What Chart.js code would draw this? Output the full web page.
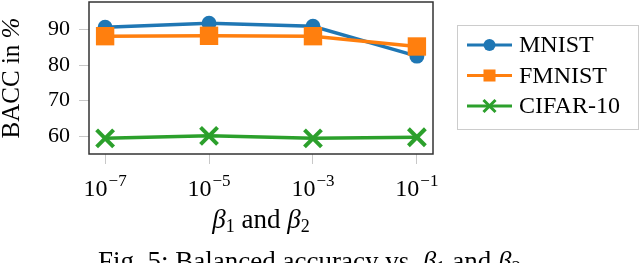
<!DOCTYPE html>
<html lang="en">
<head>
<meta charset="UTF-8">
<title>BACC vs beta</title>
<style>
    body { margin: 0; background: white; }
    #wrap { position: relative; width: 640px; height: 263px; overflow: hidden; }
    #caption {
        position: absolute;
        left: 98px;
        top: 248px;
        font-family: "Liberation Serif", serif;
        font-size: 27px;
        line-height: 27px;
        white-space: nowrap;
        color: black;
    }
    #caption sub { font-size: 19px; vertical-align: -4px; line-height: 0; }
</style>
<script src="https://cdn.jsdelivr.net/npm/chart.js@4/dist/chart.umd.min.js"></script>
</head>
<body>
<div id="wrap">
    <canvas id="chart" width="640" height="263"></canvas>
    <div id="caption">Fig. 5: Balanced accuracy vs. <i>β</i><sub>1</sub> and <i>β</i><sub>2</sub></div>
</div>
<script>
// exponents of beta (10^x) and the tick labels
const xExp = [-7, -5, -3, -1];
const tickBase = '10';
const tickExp = ['\u22127', '\u22125', '\u22123', '\u22121'];
const yTicks = [60, 70, 80, 90];

// BACC in %
const mnist = [90.6, 91.7, 90.9, 82.5];
const fmnist = [88.1, 88.2, 88.1, 85.2];
const cifar = [59.4, 60.1, 59.4, 59.7];

const seriesNames = ['MNIST', 'FMNIST', 'CIFAR-10'];
const colors = ['#1f77b4', '#ff7f0e', '#2ca02c'];

const serif = '"Liberation Serif", serif';

function pts(vals) {
    return vals.map((v, i) => ({ x: xExp[i], y: v }));
}

// frame, tick labels, axis titles and legend
const extras = {
    id: 'extras',
    afterDraw(chart) {
        const ctx = chart.ctx;
        const a = chart.chartArea;
        const xs = chart.scales.x;
        ctx.save();

        // frame round the plot
        ctx.strokeStyle = '#333';
        ctx.lineWidth = 1.5;
        ctx.strokeRect(a.left, a.top, a.right - a.left, a.bottom - a.top);

        // x tick labels 10^-n
        ctx.fillStyle = 'black';
        ctx.textBaseline = 'alphabetic';
        ctx.textAlign = 'left';
        xExp.forEach((e, i) => {
            const px = xs.getPixelForValue(e);
            ctx.font = '24px ' + serif;
            const w1 = ctx.measureText(tickBase).width;
            ctx.font = '17px ' + serif;
            const w2 = ctx.measureText(tickExp[i]).width;
            const x0 = px - (w1 + w2 + 1) / 2;
            ctx.font = '24px ' + serif;
            ctx.fillText(tickBase, x0, 196);
            ctx.font = '17px ' + serif;
            ctx.fillText(tickExp[i], x0 + w1 + 1, 186);
        });

        // x title: beta_1 and beta_2
        const parts = [
            ['italic 27px ' + serif, '\u03b2', 0],
            ['18px ' + serif, '1', 4],
            ['27px ' + serif, ' and ', 0],
            ['italic 27px ' + serif, '\u03b2', 0],
            ['18px ' + serif, '2', 4]
        ];
        let total = 0;
        parts.forEach(p => { ctx.font = p[0]; total += ctx.measureText(p[1]).width; });
        let cx = (a.left + a.right) / 2 - total / 2;
        parts.forEach(p => {
            ctx.font = p[0];
            ctx.fillText(p[1], cx, 228 + p[2]);
            cx += ctx.measureText(p[1]).width;
        });

        // y title
        ctx.save();
        ctx.translate(12, (a.top + a.bottom) / 2);
        ctx.rotate(-Math.PI / 2);
        ctx.textBaseline = 'middle';
        ctx.font = '25px ' + serif;
        const t1 = 'BACC in ';
        const w1 = ctx.measureText(t1).width;
        ctx.font = 'italic 25px ' + serif;
        const w2 = ctx.measureText('%').width;
        ctx.font = '25px ' + serif;
        ctx.fillText(t1, -(w1 + w2) / 2, 0);
        ctx.font = 'italic 25px ' + serif;
        ctx.fillText('%', -(w1 + w2) / 2 + w1, 0);
        ctx.restore();

        // legend
        ctx.fillStyle = 'white';
        ctx.fillRect(457, 25, 182, 105);
        ctx.strokeStyle = '#cccccc';
        ctx.lineWidth = 1;
        ctx.strokeRect(457.5, 25.5, 181, 104);
        chart.data.datasets.forEach((ds, i) => {
            const y = 45 + i * 30.5;
            ctx.strokeStyle = ds.borderColor;
            ctx.fillStyle = ds.borderColor;
            ctx.lineWidth = 3;
            ctx.beginPath();
            ctx.moveTo(467, y);
            ctx.lineTo(512, y);
            ctx.stroke();
            Chart.helpers.drawPoint(ctx, {
                pointStyle: ds.pointStyle,
                radius: ds.pointStyle === 'circle' ? 6 : 8.5,
                borderWidth: ds.pointStyle === 'crossRot' ? 3.5 : 0
            }, 489.5, y);
            ctx.fillStyle = 'black';
            ctx.font = '24px ' + serif;
            ctx.textBaseline = 'middle';
            ctx.fillText(ds.label, 519, y + 1);
        });

        ctx.restore();
    }
};

new Chart(document.getElementById('chart'), {
    type: 'line',
    data: {
        datasets: [
            {
                label: seriesNames[0], data: pts(mnist), order: 3,
                borderColor: colors[0], backgroundColor: colors[0],
                borderWidth: 3.5, pointStyle: 'circle', pointRadius: 7.5,
                pointBorderWidth: 0
            },
            {
                label: seriesNames[1], data: pts(fmnist), order: 2,
                borderColor: colors[1], backgroundColor: colors[1],
                borderWidth: 3.5, pointStyle: 'rect', pointRadius: 13,
                pointBorderWidth: 0
            },
            {
                label: seriesNames[2], data: pts(cifar), order: 1,
                borderColor: colors[2], backgroundColor: colors[2],
                borderWidth: 3.5, pointStyle: 'crossRot', pointRadius: 12,
                pointBorderWidth: 4
            }
        ]
    },
    options: {
        responsive: false,
        animation: false,
        layout: { autoPadding: false, padding: { left: 0, right: 207, top: 2, bottom: 0 } },
        plugins: { legend: { display: false }, tooltip: { enabled: false } },
        elements: { line: { tension: 0, fill: false } },
        datasets: { line: { clip: false } },
        scales: {
            x: {
                type: 'linear',
                min: -7.31,
                max: -0.69,
                afterBuildTicks: s => { s.ticks = xExp.map(v => ({ value: v })); },
                afterFit: s => { s.height = 109; s.paddingLeft = 0; s.paddingRight = 0; },
                border: { display: false },
                grid: { drawOnChartArea: false, drawTicks: true, tickLength: 10, color: '#c8c8c8' },
                ticks: { display: false }
            },
            y: {
                min: 55,
                max: 97.7,
                afterBuildTicks: s => { s.ticks = yTicks.map(v => ({ value: v })); },
                afterFit: s => { s.width = 89; s.paddingTop = 0; s.paddingBottom = 0; },
                border: { display: false },
                grid: { drawOnChartArea: false, drawTicks: true, tickLength: 10, color: '#c8c8c8' },
                ticks: {
                    color: 'black',
                    padding: 9,
                    font: { family: serif, size: 22 }
                }
            }
        }
    },
    plugins: [extras]
});
</script>
</body>
</html>
